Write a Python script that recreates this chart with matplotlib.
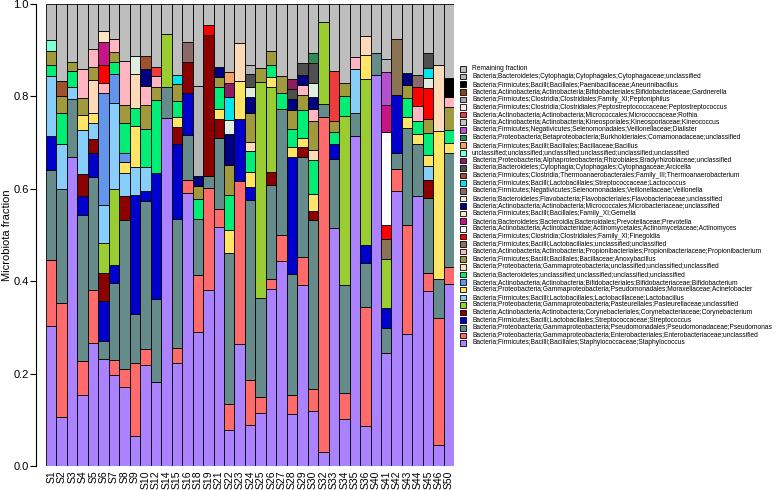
import matplotlib
matplotlib.use('Agg')
import matplotlib.pyplot as plt
from matplotlib.patches import Rectangle
import numpy as np

plt.rcParams['font.family'] = ['Liberation Sans', 'DejaVu Sans']

samples = ['S1', 'S2', 'S3', 'S4', 'S5', 'S6', 'S7', 'S8', 'S9', 'S10',
           'S12', 'S14', 'S15', 'S16', 'S18', 'S19', 'S21', 'S22', 'S23', 'S24',
           'S25', 'S26', 'S27', 'S28', 'S29', 'S30', 'S32', 'S33', 'S34', 'S35',
           'S36', 'S40', 'S41', 'S42', 'S43', 'S44', 'S45', 'S46', 'S50']

# dense taxa, one value per sample
staph = [.304, .105, .668, .153, .267, .232, .198, .170, .066, .219,
         .182, .753, .222, .590, .289, .382, .518, .079, .263, .089,
         .114, .384, .443, .113, .391, .120, .030, .515, .101, .714,
         .087, .846, .245, .596, .286, .584, .378, .046, .394]
entero = [.142, .247, 0, .075, .114, 0, .031, .039, .156, .035,
          0, 0, .033, .028, .125, .220, .038, .055, .353, .097,
          .036, .021, .058, .040, .062, .047, .725, 0, .056, 0,
          .258, 0, 0, .046, .235, 0, .039, .274, .037]
pseudo = [.195, .247, .126, .316, .245, .039, .168, .323, .108, .319,
          .179, .068, .280, .099, .121, .026, .153, .328, 0, .390,
          .213, .204, .271, .263, .215, .365, .029, .149, .234, .049,
          .095, .049, .054, .035, .211, .113, .163, .085, .247]

# sparse taxa, sample -> fraction
strep = {'S1': .073, 'S4': .040, 'S5': .051, 'S6': .087, 'S7': .039, 'S9': .257,
         'S10': .023, 'S12': .274, 'S15': .163, 'S16': .091, 'S23': .136, 'S24': .027,
         'S28': .252, 'S33': .033, 'S36': .038, 'S41': .043, 'S42': .127}
coryne = {'S4': .048, 'S5': .030, 'S6': .060, 'S8': .052, 'S15': .035, 'S16': .066,
          'S19': .304, 'S21': .043, 'S26': .027, 'S29': .022, 'S30': .021, 'S45': .040}
pasteur = {'S6': .065, 'S7': .164, 'S14': .113, 'S25': .468, 'S26': .184, 'S32': .176,
           'S34': .367, 'S36': .360, 'S41': .105}
lactob = {'S1': .130, 'S2': .099, 'S3': .026, 'S4': .095, 'S5': .036, 'S6': .081,
          'S7': .186, 'S8': .051, 'S9': .061, 'S10': .052, 'S35': .097, 'S45': .029}
acineto = {'S4': .032, 'S5': .022, 'S8': .022, 'S9': .088, 'S15': .022, 'S21': .020,
           'S22': .049, 'S23': .082, 'S24': .033, 'S26': .023, 'S28': .023, 'S29': .021,
           'S30': .036, 'S36': .051, 'S43': .023, 'S44': .022, 'S45': .025, 'S46': .321,
           'S50': .022}
bifido = {'S6': .244, 'S7': .062, 'S8': .021}
bactu = {'S1': .025, 'S2': .065, 'S3': .034, 'S7': .026, 'S8': .065, 'S9': .039,
         'S10': .081, 'S12': .157, 'S15': .034, 'S18': .042, 'S21': .048, 'S22': .076,
         'S24': .045, 'S26': .026, 'S27': .035, 'S28': .039, 'S29': .060, 'S30': .073,
         'S33': .027, 'S34': .043, 'S43': .042, 'S44': .027, 'S45': .046, 'S50': .027}
gammau = {'S5': .070, 'S9': .073, 'S23': .082, 'S24': .020, 'S30': .022, 'S36': .042,
          'S46': .141}
anoxy = {'S1': .029, 'S2': .037, 'S3': .021, 'S4': .037, 'S5': .028, 'S7': .022,
         'S8': .039, 'S10': .053, 'S12': .028, 'S15': .038, 'S18': .028, 'S21': .021,
         'S22': .065, 'S24': .062, 'S25': .030, 'S26': .029, 'S27': .037, 'S28': .041,
         'S29': .033, 'S30': .063, 'S33': .022, 'S34': .027, 'S43': .027, 'S45': .030,
         'S50': .049}
propioni = {'S4': .063, 'S5': .040, 'S6': .022, 'S7': .029, 'S8': .095, 'S10': .040,
            'S12': .024, 'S29': .020, 'S30': .025, 'S35': .025, 'S44': .033, 'S50': .022}
lactou = {'S41': .045, 'S42': .121}
finegold = {'S6': .039, 'S19': .022, 'S41': .029, 'S44': .041, 'S45': .068}
actino = {'S41': .201}
prevo = {'S6': .049, 'S41': .060}
gemella = {'S6': .023}
microb = {'S10': .037, 'S18': .023, 'S21': .023, 'S22': .067, 'S24': .035, 'S28': .023,
          'S29': .023, 'S30': .026, 'S43': .027}
flavo = {'S9': .039, 'S22': .031, 'S24': .022, 'S30': .032, 'S45': .022}
veillo = {'S16': .044, 'S44': .027}
lactoc = {'S15': .020, 'S22': .049, 'S45': .021}
thermo = {'S2': .033, 'S10': .028}
arci = {'S24': .028, 'S28': .021, 'S29': .025, 'S30': .042, 'S45': .032}
brady = {'S22': .031, 'S28': .022}
unclass = {'S1': .023}
bacillus = {'S22': .023}
comam = {'S30': .023}
dialis = {'S41': .071}
kineo = {}
rothia = {'S12': .020, 'S33': .108}
peptostr = {}
peptoni = {}
gardn = {}
aneur = {'S50': .042}
cytou = {'S18': .195, 'S24': .019, 'S41': .029}

# stacking order, bottom first
layers = [
    (staph, 'Bacteria;Firmicutes;Bacilli;Bacillales;Staphylococcaceae;Staphylococcus', '#AB82FF'),
    (entero, 'Bacteria;Proteobacteria;Gammaproteobacteria;Enterobacteriales;Enterobacteriaceae;unclassified', '#FF6A6A'),
    (pseudo, 'Bacteria;Proteobacteria;Gammaproteobacteria;Pseudomonadales;Pseudomonadaceae;Pseudomonas', '#668B8B'),
    (strep, 'Bacteria;Firmicutes;Bacilli;Lactobacillales;Streptococcaceae;Streptococcus', '#0000CD'),
    (coryne, 'Bacteria;Actinobacteria;Actinobacteria;Corynebacteriales;Corynebacteriaceae;Corynebacterium', '#8B0000'),
    (pasteur, 'Bacteria;Proteobacteria;Gammaproteobacteria;Pasteurellales;Pasteurellaceae;unclassified', '#9ACD32'),
    (lactob, 'Bacteria;Firmicutes;Bacilli;Lactobacillales;Lactobacillaceae;Lactobacillus', '#87CEFA'),
    (acineto, 'Bacteria;Proteobacteria;Gammaproteobacteria;Pseudomonadales;Moraxellaceae;Acinetobacter', '#FFE566'),
    (bifido, 'Bacteria;Actinobacteria;Actinobacteria;Bifidobacteriales;Bifidobacteriaceae;Bifidobacterium', '#6495ED'),
    (bactu, 'Bacteria;Bacteroidetes;unclassified;unclassified;unclassified;unclassified', '#00EE76'),
    (gammau, 'Bacteria;Proteobacteria;Gammaproteobacteria;unclassified;unclassified;unclassified', '#FFDAB9'),
    (anoxy, 'Bacteria;Firmicutes;Bacilli;Bacillales;Bacillaceae;Anoxybacillus', '#A09A3C'),
    (propioni, 'Bacteria;Actinobacteria;Actinobacteria;Propionibacteriales;Propionibacteriaceae;Propionibacterium', '#FFB6C1'),
    (lactou, 'Bacteria;Firmicutes;Bacilli;Lactobacillales;unclassified;unclassified', '#8B7355'),
    (finegold, 'Bacteria;Firmicutes;Clostridia;Clostridiales;Family_XI;Finegoldia', '#FF0000'),
    (actino, 'Bacteria;Actinobacteria;Actinobacteridae;Actinomycetales;Actinomycetaceae;Actinomyces', '#FFFFFF'),
    (prevo, 'Bacteria;Bacteroidetes;Bacteroidia;Bacteroidales;Prevotellaceae;Prevotella', '#C71585'),
    (gemella, 'Bacteria;Firmicutes;Bacilli;Bacillales;Family_XI;Gemella', '#FFE4C4'),
    (microb, 'Bacteria;Actinobacteria;Actinobacteria;Micrococcales;Microbacteriaceae;unclassified', '#000080'),
    (flavo, 'Bacteria;Bacteroidetes;Flavobacteria;Flavobacteriales;Flavobacteriaceae;unclassified', '#E0EEE0'),
    (veillo, 'Bacteria;Firmicutes;Negativicutes;Selenomonadales;Veillonellaceae;Veillonella', '#8B6969'),
    (lactoc, 'Bacteria;Firmicutes;Bacilli;Lactobacillales;Streptococcaceae;Lactococcus', '#00E5EE'),
    (thermo, 'Bacteria;Firmicutes;Clostridia;Thermoanaerobacterales;Family_III;Thermoanaerobacterium', '#A0522D'),
    (arci, 'Bacteria;Bacteroidetes;Cytophagia;Cytophagales;Cytophagaceae;Arcicella', '#4F4F4F'),
    (brady, 'Bacteria;Proteobacteria;Alphaproteobacteria;Rhizobiales;Bradyrhizobiaceae;unclassified', '#8B1C62'),
    (unclass, 'unclassified;unclassified;unclassified;unclassified;unclassified;unclassified', '#7FFFD4'),
    (bacillus, 'Bacteria;Firmicutes;Bacilli;Bacillales;Bacillaceae;Bacillus', '#F4A460'),
    (comam, 'Bacteria;Proteobacteria;Betaproteobacteria;Burkholderiales;Comamonadaceae;unclassified', '#2E8B57'),
    (dialis, 'Bacteria;Firmicutes;Negativicutes;Selenomonadales;Veillonellaceae;Dialister', '#B452CD'),
    (kineo, 'Bacteria;Actinobacteria;Actinobacteria;Kineosporiales;Kineosporiaceae;Kineococcus', '#C4C4C4'),
    (rothia, 'Bacteria;Actinobacteria;Actinobacteria;Micrococcales;Micrococcaceae;Rothia', '#EE3B3B'),
    (peptostr, 'Bacteria;Firmicutes;Clostridia;Clostridiales;Peptostreptococcaceae;Peptostreptococcus', '#FFE4E1'),
    (peptoni, 'Bacteria;Firmicutes;Clostridia;Clostridiales;Family_XI;Peptoniphilus', '#A9A9A9'),
    (gardn, 'Bacteria;Actinobacteria;Actinobacteria;Bifidobacteriales;Bifidobacteriaceae;Gardnerella', '#8B4513'),
    (aneur, 'Bacteria;Firmicutes;Bacilli;Bacillales;Paenibacillaceae;Aneurinibacillus', '#000000'),
    (cytou, 'Bacteria;Bacteroidetes;Cytophagia;Cytophagales;Cytophagaceae;unclassified', '#B5B5B5'),
]


def as_array(vals):
    if isinstance(vals, dict):
        return np.array([vals.get(s, 0.0) for s in samples])
    return np.array(vals, dtype=float)


x = np.arange(len(samples))
fig = plt.figure(figsize=(7.77, 4.90), dpi=100)
W, H = 777.0, 490.0
ax = fig.add_axes([46 / W, 24 / H, 408.3 / W, 462 / H])

bottom = np.zeros(len(samples))
for vals, label, color in layers:
    v = as_array(vals)
    m = v > 0
    ax.bar(x[m], v[m], width=1.0, bottom=bottom[m], color=color,
           edgecolor='black', linewidth=0.6)
    bottom += v
remaining = 1.0 - bottom
ax.bar(x, remaining, width=1.0, bottom=bottom, color='#BEBEBE',
       edgecolor='black', linewidth=0.6)

ax.set_xlim(-0.5, len(samples) - 0.5)
ax.set_ylim(0, 1)
for side in ['top', 'right', 'bottom']:
    ax.spines[side].set_visible(False)
ax.spines['left'].set_position(('outward', 7))
ax.spines['left'].set_bounds(0, 1)
ax.spines['left'].set_linewidth(0.8)
ax.set_yticks(np.arange(0, 1.01, 0.2))
ax.set_yticklabels(['0.0', '0.2', '0.4', '0.6', '0.8', '1.0'])
ax.tick_params(axis='y', length=4.5, width=0.8, pad=1, labelsize=8)
ax.set_xticks(x)
ax.set_xticklabels(samples, rotation=90)
ax.tick_params(axis='x', length=0, pad=3, labelsize=7.5)
ax.set_ylabel('Microbiota fraction', fontsize=8)
ax.yaxis.set_label_coords(-34 / 408.3, 0.5)

# legend, top entry first
entries = [('Remaining fraction', '#BEBEBE')] + [(lab, col) for _, lab, col in layers[::-1]]
for i, (lab, col) in enumerate(entries):
    yc = 69 + i * 7.61
    fig.add_artist(Rectangle((459.5 / W, 1 - (yc + 2.8) / H), 6 / W, 5.6 / H,
                             transform=fig.transFigure, facecolor=col,
                             edgecolor='black', linewidth=0.6))
    fig.text(472 / W, 1 - yc / H, lab, fontsize=4.75, va='center', ha='left')

fig.savefig('out.png', dpi=100)
